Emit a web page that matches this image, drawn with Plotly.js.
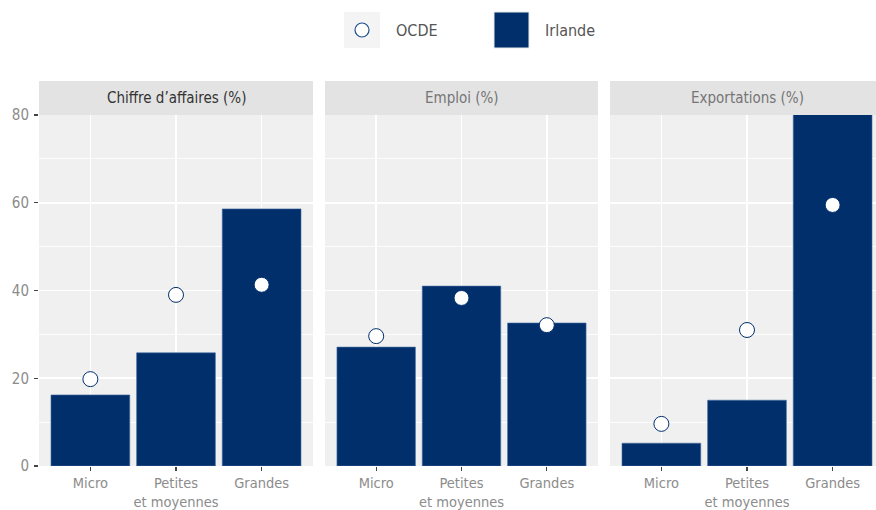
<!DOCTYPE html>
<html>
<head>
<meta charset="utf-8">
<script src="https://cdn.plot.ly/plotly-3.0.1.min.js"></script>
<style>html,body{margin:0;padding:0;overflow:hidden;background:#fff;}</style>
</head>
<body>
<div id="chart"></div>
<script>
const categories = ["Micro", "Petites<br>et moyennes", "Grandes"];
const panels = ["Chiffre d’affaires (%)", "Emploi (%)", "Exportations (%)"];
const irlandeChiffre = [16.2, 25.8, 58.6];
const irlandeEmploi = [27.1, 41.0, 32.6];
const irlandeExport = [5.2, 15.0, 84.0];
const ocdeChiffre = [19.8, 39.0, 41.3];
const ocdeEmploi = [29.6, 38.3, 32.1];
const ocdeExport = [9.6, 31.0, 59.5];
const yTicks = [0, 20, 40, 60, 80];

const W = 888, H = 510;
const navy = "#002F6C";
const FONT = "DejaVu Sans Condensed, Liberation Sans Narrow, sans-serif";
const px = v => v / W;
const py = v => (H - v) / H;

const panelX = [[39, 313], [325, 598], [610, 884]];
const panelTop = 115, panelBot = 466, stripTop = 81;

const irl = [irlandeChiffre, irlandeEmploi, irlandeExport];
const ocde = [ocdeChiffre, ocdeEmploi, ocdeExport];

const traces = [];
const layout = {
  width: W, height: H,
  margin: {l: 0, r: 0, t: 0, b: 0, autoexpand: false},
  paper_bgcolor: "#ffffff",
  plot_bgcolor: "#F0F0F0",
  showlegend: false,
  font: {family: FONT, size: 15, color: "#8C8C8C"},
  shapes: [],
  annotations: []
};

for (let i = 0; i < 3; i++) {
  const sfx = i === 0 ? "" : String(i + 1);
  traces.push({
    type: "bar", x: categories, y: irl[i], xaxis: "x" + sfx, yaxis: "y" + sfx,
    width: 0.92,
    marker: {color: navy, line: {color: "#4A6FA5", width: 0.6}},
    hoverinfo: "skip"
  });
  traces.push({
    type: "scatter", mode: "markers", x: categories, y: ocde[i], xaxis: "x" + sfx, yaxis: "y" + sfx,
    marker: {symbol: "circle", size: 15, color: "#ffffff", line: {color: navy, width: 1}},
    cliponaxis: false, hoverinfo: "skip"
  });
  layout["xaxis" + sfx] = {
    domain: [px(panelX[i][0]), px(panelX[i][1])],
    anchor: "y" + sfx,
    range: [-0.6, 2.6],
    type: "category",
    showgrid: true, gridcolor: "#ffffff", gridwidth: 1.6,
    zeroline: false, showline: false,
    ticks: "outside", ticklen: 4, tickwidth: 1.2, tickcolor: "#444444",
    ticklabelstandoff: 0,
    tickfont: {family: FONT, size: 14.5, color: "#8C8C8C"},
    automargin: false, fixedrange: true
  };
  layout["yaxis" + sfx] = {
    domain: [py(panelBot), py(panelTop)],
    anchor: "x" + sfx,
    range: [0, 80],
    tickvals: yTicks,
    showticklabels: i === 0,
    ticks: i === 0 ? "outside" : "",
    ticklen: 4, tickwidth: 1.2, tickcolor: "#444444",
    ticklabelstandoff: 2,
    tickfont: {family: FONT, size: 15, color: "#8C8C8C"},
    showgrid: true, gridcolor: "#ffffff", gridwidth: 1.6,
    minor: {dtick: 10, tick0: 0, showgrid: true, gridcolor: "#ffffff", gridwidth: 0.8, ticks: ""},
    zeroline: false, showline: false,
    automargin: false, fixedrange: true
  };
  layout.shapes.push({
    type: "rect", xref: "paper", yref: "paper", layer: "below",
    x0: px(panelX[i][0]), x1: px(panelX[i][1]), y0: py(panelTop), y1: py(stripTop),
    fillcolor: "#E3E3E3", line: {width: 0}
  });
  layout.annotations.push({
    xref: "paper", yref: "paper",
    x: px((panelX[i][0] + panelX[i][1]) / 2), y: py((panelTop + stripTop) / 2),
    text: panels[i], showarrow: false, xanchor: "center", yanchor: "middle",
    font: {family: FONT, size: 15, color: i === 0 ? "#333333" : "#757575"}
  });
}

// legend
layout.shapes.push({
  type: "rect", xref: "paper", yref: "paper",
  x0: px(344), x1: px(380), y0: py(48), y1: py(12),
  fillcolor: "#F4F4F4", line: {width: 0}
});
layout.shapes.push({
  type: "circle", xref: "paper", yref: "paper",
  xsizemode: "pixel", ysizemode: "pixel",
  xanchor: px(362), yanchor: py(30),
  x0: -7, x1: 7, y0: -7, y1: 7,
  fillcolor: "#ffffff", line: {color: "#1F4E8C", width: 1.2}
});
layout.shapes.push({
  type: "rect", xref: "paper", yref: "paper",
  x0: px(494), x1: px(529), y0: py(48), y1: py(12),
  fillcolor: navy, line: {color: "#E8E8E8", width: 1}
});
layout.annotations.push({
  xref: "paper", yref: "paper", x: px(394), y: py(30), text: "OCDE",
  showarrow: false, xanchor: "left", yanchor: "middle",
  font: {family: FONT, size: 16, color: "#555555"}
});
layout.annotations.push({
  xref: "paper", yref: "paper", x: px(543), y: py(30), text: "Irlande",
  showarrow: false, xanchor: "left", yanchor: "middle",
  font: {family: FONT, size: 16, color: "#555555"}
});

Plotly.newPlot("chart", traces, layout, {displayModeBar: false, staticPlot: true});
</script>
</body>
</html>
